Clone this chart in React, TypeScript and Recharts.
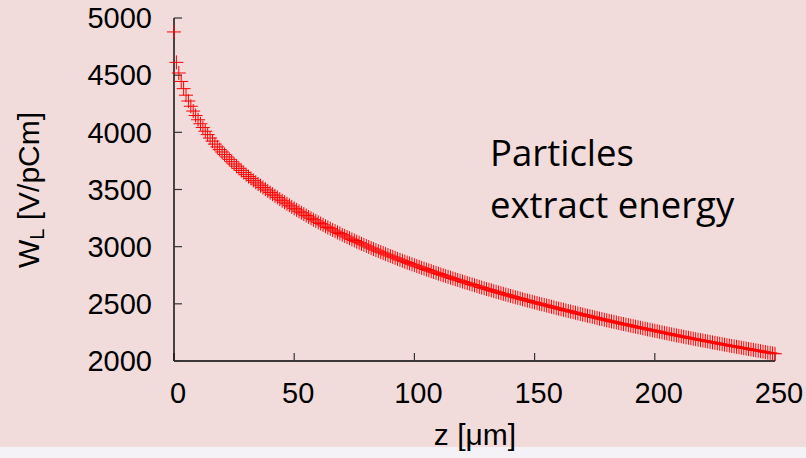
import React from 'react';
import { ScatterChart, Scatter, XAxis, YAxis } from 'recharts';

// z axis ticks [µm]
const xTicks = [0, 50, 100, 150, 200, 250];
// W_L axis ticks [V/pCm]
const yTicks = [2000, 2500, 3000, 3500, 4000, 4500, 5000];

// W_L, one sample per µm of z, starting at z = 0
const wakeValues = [
  4878, 4612, 4519, 4445, 4382, 4325, 4274, 4228, 4186, 4147,
  4110, 4075, 4042, 4010, 3980, 3950, 3923, 3897, 3872, 3849,
  3828, 3806, 3785, 3764, 3743, 3723, 3704, 3685, 3667, 3648,
  3630, 3613, 3597, 3580, 3564, 3548, 3533, 3518, 3503, 3488,
  3473, 3459, 3445, 3431, 3416, 3402, 3389, 3375, 3362, 3348,
  3335, 3322, 3310, 3297, 3285, 3272, 3260, 3248, 3236, 3225,
  3213, 3202, 3191, 3179, 3168, 3157, 3146, 3136, 3125, 3115,
  3104, 3094, 3084, 3074, 3064, 3054, 3044, 3035, 3025, 3016,
  3006, 2997, 2988, 2979, 2970, 2961, 2952, 2944, 2935, 2927,
  2918, 2910, 2902, 2893, 2885, 2877, 2869, 2861, 2854, 2846,
  2838, 2830, 2823, 2815, 2808, 2800, 2793, 2786, 2778, 2771,
  2764, 2757, 2750, 2743, 2736, 2729, 2722, 2715, 2709, 2702,
  2695, 2688, 2682, 2675, 2669, 2662, 2656, 2649, 2643, 2636,
  2630, 2624, 2618, 2611, 2605, 2599, 2593, 2587, 2581, 2575,
  2569, 2563, 2557, 2552, 2546, 2540, 2534, 2529, 2523, 2518,
  2512, 2507, 2501, 2496, 2490, 2485, 2480, 2474, 2469, 2463,
  2458, 2453, 2448, 2442, 2437, 2432, 2427, 2422, 2416, 2411,
  2406, 2401, 2396, 2391, 2386, 2381, 2376, 2371, 2366, 2361,
  2356, 2351, 2346, 2342, 2337, 2332, 2327, 2323, 2318, 2314,
  2309, 2304, 2300, 2295, 2291, 2286, 2282, 2277, 2273, 2268,
  2264, 2260, 2255, 2251, 2246, 2242, 2238, 2233, 2229, 2224,
  2220, 2216, 2212, 2207, 2203, 2199, 2195, 2191, 2187, 2183,
  2179, 2175, 2171, 2167, 2163, 2159, 2155, 2151, 2147, 2143,
  2139, 2135, 2131, 2128, 2124, 2120, 2116, 2112, 2109, 2105,
  2101, 2097, 2093, 2090, 2086, 2082, 2078, 2074, 2071, 2067,
  2063,
];

const Z_STEP_UM = 1;
const data = wakeValues.map((w, i) => ({ z: i * Z_STEP_UM, w }));

const FONT = '"Liberation Sans", Arial, sans-serif';

const Plus = (props: any) => {
  const { cx, cy } = props;
  if (cx == null || cy == null) return null;
  return (
    <path
      d={`M${cx - 7},${cy}H${cx + 7}M${cx},${cy - 7}V${cy + 7}`}
      stroke="#ff0000"
      strokeWidth={1}
      fill="none"
    />
  );
};

const axisLine = { stroke: '#000', strokeWidth: 1.4 };
const tickLine = { stroke: '#333', strokeWidth: 1.2 };

export default function App() {
  return (
    <div
      style={{
        position: 'absolute',
        left: 0,
        top: 0,
        width: 806,
        height: 458,
        background: '#f4f2f7',
        overflow: 'hidden',
      }}
    >
      <div
        style={{
          position: 'absolute',
          left: 0,
          top: 0,
          width: 806,
          height: 447,
          background: '#f2dcdb',
          overflow: 'hidden',
        }}
      >
        <ScatterChart width={806} height={447} margin={{ top: 18, right: 31, bottom: 0, left: 0 }}>
          <XAxis
            xAxisId="b"
            dataKey="z"
            type="number"
            domain={[0, 250]}
            ticks={xTicks}
            interval={0}
            orientation="bottom"
            height={86}
            tickSize={-8}
            tickMargin={29}
            axisLine={axisLine}
            tickLine={tickLine}
            tick={{ fill: '#000', fontSize: 29, fontFamily: FONT, dx: 4 }}
          />
          <XAxis
            xAxisId="t"
            dataKey="z"
            type="number"
            domain={[0, 250]}
            ticks={xTicks}
            interval={0}
            orientation="top"
            height={0}
            tickSize={-8}
            axisLine={axisLine}
            tickLine={tickLine}
            tick={false}
          />
          <YAxis
            yAxisId="l"
            dataKey="w"
            type="number"
            domain={[2000, 5000]}
            ticks={yTicks}
            interval={0}
            orientation="left"
            width={174}
            tickSize={-8}
            tickMargin={30}
            axisLine={axisLine}
            tickLine={tickLine}
            tick={{ fill: '#000', fontSize: 29, fontFamily: FONT }}
          />
          <YAxis
            yAxisId="r"
            dataKey="w"
            type="number"
            domain={[2000, 5000]}
            ticks={yTicks}
            interval={0}
            orientation="right"
            width={0}
            tickSize={-8}
            axisLine={axisLine}
            tickLine={tickLine}
            tick={false}
          />
          <Scatter
            xAxisId="b"
            yAxisId="l"
            data={data}
            shape={Plus}
            isAnimationActive={false}
          />
        </ScatterChart>
      </div>
      <svg
        width={806}
        height={458}
        style={{ position: 'absolute', left: 0, top: 0, pointerEvents: 'none' }}
      >
        <text
          transform="translate(39,190) rotate(-90)"
          textAnchor="middle"
          fontSize={30}
          fontFamily={FONT}
          fill="#000"
        >
          W<tspan fontSize={20} dy={5}>L</tspan>
          <tspan dy={-5}> [V/pCm]</tspan>
        </text>
        <text x={475} y={445} textAnchor="middle" fontSize={30} fontFamily={FONT} fill="#000">
          z [μm]
        </text>
        <text x={490} y={166} fontSize={36.5} fontFamily='"Open Sans", sans-serif' fill="#000">
          Particles
        </text>
        <text x={490} y={218} fontSize={36.5} fontFamily='"Open Sans", sans-serif' fill="#000">
          extract energy
        </text>
      </svg>
    </div>
  );
}
